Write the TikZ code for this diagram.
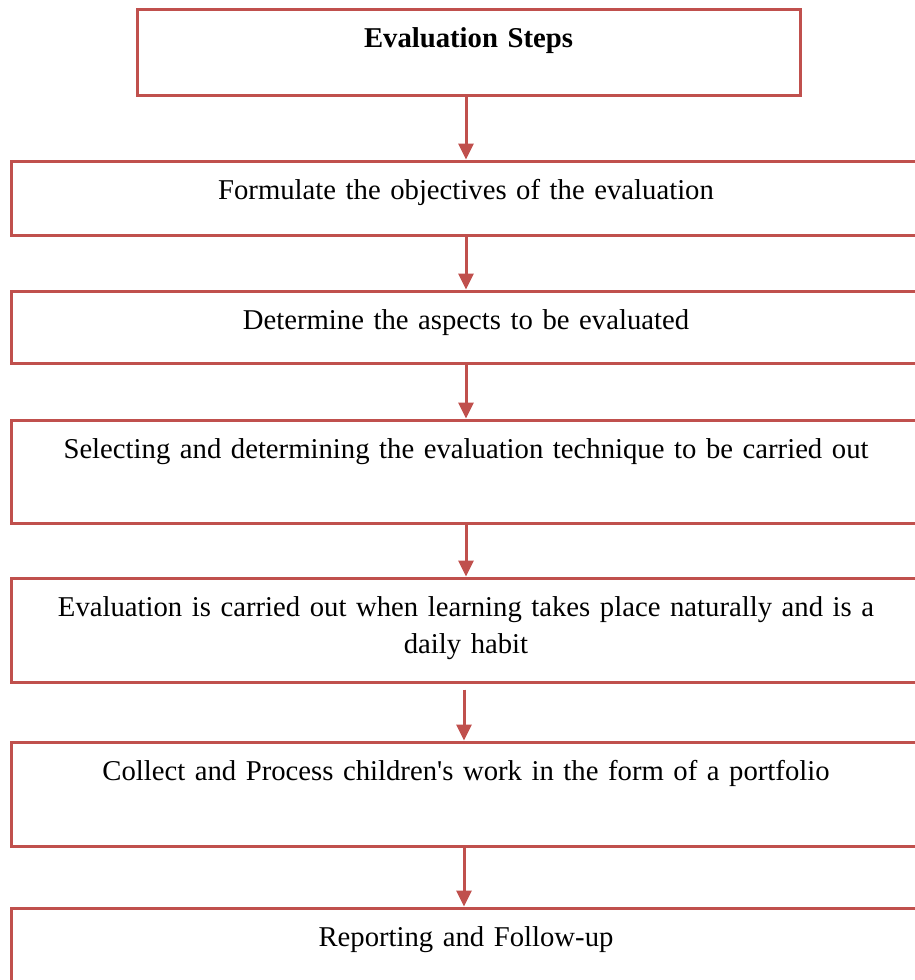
\documentclass[tikz,border=0pt]{standalone}
\usepackage{fontspec}
\setmainfont{Liberation Serif}
\usetikzlibrary{positioning,arrows.meta}

\definecolor{stepred}{RGB}{192,80,77}

\tikzset{
	stepbox/.style={draw=stepred, line width=3pt, minimum width=910pt, inner sep=0pt},
	steptext/.style={text width=890pt, align=center, inner sep=0pt, font=\fontsize{28.7}{37}\selectfont},
	steparrow/.style={draw=stepred, line width=3pt, -{Triangle[width=15pt,length=16pt]}},
}

\begin{document}
\begin{tikzpicture}[x=1pt, y=-1pt]
	\useasboundingbox (0,0) rectangle (915,980);
	\clip (0,0) rectangle (915,980);

	\node[stepbox, minimum width=663pt, minimum height=86pt, anchor=north] (title) at (468.5,7.5) {};
	\node[stepbox, minimum height=74pt, below=63pt of title, xshift=-2.5pt] (s1) {};
	\node[stepbox, minimum height=72.5pt, below=53pt of s1] (s2) {};
	\node[stepbox, minimum height=103pt, below=53.5pt of s2] (s3) {};
	\node[stepbox, minimum height=104pt, below=52pt of s3] (s4) {};
	\node[stepbox, minimum height=104pt, below=57pt of s4] (s5) {};
	\node[stepbox, minimum height=104pt, below=59pt of s5] (s6) {};

	\node[steptext, below=20pt of title.north] (t0) {\textbf{Evaluation Steps}};
	\node[steptext, below=20pt of s1.north] (t1) {Formulate the objectives of the evaluation};
	\node[steptext, below=20pt of s2.north] (t2) {Determine the aspects to be evaluated};
	\node[steptext, below=20pt of s3.north] (t3) {Selecting and determining the evaluation technique to be carried out};
	\node[steptext, below=20pt of s4.north] (t4) {Evaluation is carried out when learning takes place naturally and is a\\ daily habit};
	\node[steptext, below=20pt of s5.north] (t5) {Collect and Process children\textquotesingle s work in the form of a portfolio};
	\node[steptext, below=20pt of s6.north] (t6) {Reporting and Follow-up};

	% connectors
	\draw[steparrow] ([xshift=-2.5pt]title.south) -- (s1.north);
	\draw[steparrow] (s1.south) -- (s2.north);
	\draw[steparrow] (s2.south) -- (s3.north);
	\draw[steparrow] (s3.south) -- (s4.north);
	\draw[steparrow] ([xshift=-2pt, yshift=-6pt]s4.south) -- ([xshift=-2pt]s5.north);
	\draw[steparrow] ([xshift=-2pt]s5.south) -- ([xshift=-2pt]s6.north);
\end{tikzpicture}
\end{document}
